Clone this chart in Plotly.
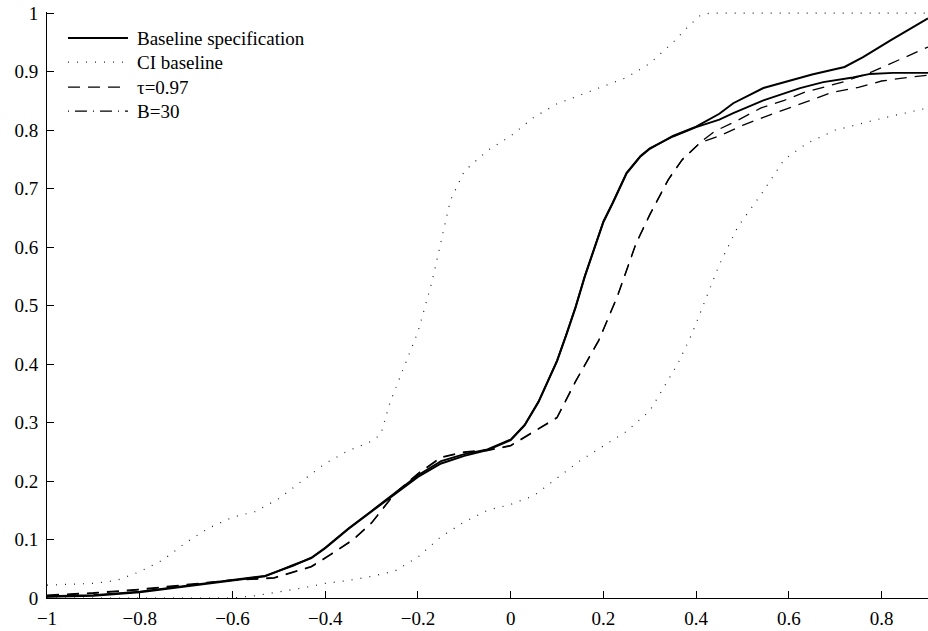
import plotly.graph_objects as go

# ---- data ----
x_base = [-1, -0.9, -0.8, -0.7, -0.6, -0.53, -0.47, -0.43, -0.4, -0.35, -0.3, -0.25, -0.2, -0.15, -0.1, -0.05,
          0, 0.03, 0.06, 0.08, 0.1, 0.12, 0.14, 0.16, 0.18, 0.2, 0.22, 0.25, 0.28, 0.3, 0.35, 0.4,
          0.45, 0.48, 0.545, 0.6, 0.65, 0.72, 0.76, 0.82, 0.86, 0.9]
y_base = [0.002, 0.004, 0.010, 0.020, 0.030, 0.037, 0.056, 0.068, 0.085, 0.118, 0.148, 0.178, 0.207, 0.230, 0.243, 0.253,
          0.270, 0.295, 0.335, 0.370, 0.405, 0.450, 0.497, 0.550, 0.598, 0.643, 0.675, 0.726, 0.755, 0.768, 0.790, 0.806,
          0.828, 0.846, 0.872, 0.884, 0.895, 0.908, 0.925, 0.954, 0.972, 0.991]

x_b30 = [-1, -0.9, -0.8, -0.7, -0.6, -0.53, -0.47, -0.43, -0.4, -0.35, -0.3, -0.25, -0.2, -0.15, -0.1, -0.05,
         0, 0.03, 0.06, 0.08, 0.1, 0.12, 0.14, 0.16, 0.18, 0.2, 0.22, 0.25, 0.28, 0.3, 0.35, 0.4,
         0.45, 0.48, 0.545, 0.6, 0.624, 0.674, 0.738, 0.775, 0.825, 0.9]
y_b30 = [0.003, 0.005, 0.011, 0.021, 0.031, 0.038, 0.055, 0.069, 0.086, 0.119, 0.149, 0.179, 0.210, 0.234, 0.246, 0.254,
         0.271, 0.296, 0.336, 0.371, 0.406, 0.451, 0.498, 0.551, 0.599, 0.644, 0.676, 0.727, 0.756, 0.769, 0.789, 0.805,
         0.818, 0.829, 0.851, 0.865, 0.872, 0.882, 0.890, 0.896, 0.898, 0.898]

x_tau = [-1, -0.9, -0.8, -0.7, -0.6, -0.51, -0.47, -0.43, -0.39, -0.34, -0.3, -0.27, -0.25, -0.2, -0.15, -0.1, -0.05,
         0, 0.04, 0.1, 0.14, 0.19, 0.23, 0.27, 0.3, 0.34, 0.37, 0.41,
         0.44, 0.49, 0.54, 0.59, 0.635, 0.72, 0.78, 0.83, 0.88, 0.9]
y_tau = [0.004, 0.008, 0.014, 0.022, 0.030, 0.034, 0.043, 0.053, 0.073, 0.099, 0.128, 0.159, 0.178, 0.212, 0.240, 0.249, 0.252,
         0.260, 0.279, 0.308, 0.370, 0.440, 0.515, 0.605, 0.655, 0.715, 0.749, 0.780,
         0.798, 0.817, 0.838, 0.851, 0.865, 0.883, 0.900, 0.918, 0.935, 0.942]

x_tau2 = [-1, -0.9, -0.8, -0.7, -0.6, -0.51, -0.47, -0.43, -0.39, -0.34, -0.3, -0.27, -0.25, -0.2, -0.15, -0.1, -0.05,
          0, 0.04, 0.1, 0.14, 0.19, 0.23, 0.27, 0.3, 0.34, 0.37, 0.41,
          0.45, 0.5, 0.545, 0.6, 0.645, 0.695, 0.75, 0.8, 0.845, 0.9]
y_tau2 = [0.005, 0.009, 0.015, 0.023, 0.031, 0.035, 0.044, 0.054, 0.074, 0.100, 0.129, 0.160, 0.179, 0.213, 0.241, 0.250, 0.253,
          0.261, 0.280, 0.309, 0.371, 0.441, 0.516, 0.606, 0.656, 0.716, 0.750, 0.779,
          0.790, 0.808, 0.822, 0.838, 0.851, 0.865, 0.873, 0.884, 0.889, 0.894]

x_ci_up = [-1, -0.9, -0.85, -0.8, -0.75, -0.7, -0.65, -0.6, -0.55, -0.5, -0.45, -0.4, -0.35, -0.3, -0.28, -0.26, -0.24,
           -0.2, -0.17, -0.15, -0.13, -0.1, -0.05, 0, 0.05, 0.1, 0.15, 0.2, 0.25, 0.3, 0.35, 0.38, 0.41, 0.43, 0.9]
y_ci_up = [0.022, 0.025, 0.030, 0.045, 0.065, 0.095, 0.120, 0.138, 0.148, 0.170, 0.200, 0.230, 0.252, 0.268, 0.280, 0.335, 0.375,
           0.455, 0.540, 0.610, 0.680, 0.730, 0.765, 0.790, 0.822, 0.845, 0.860, 0.875, 0.890, 0.914, 0.950, 0.975, 0.997, 1.0, 1.0]

x_ci_lo = [-1, -0.6, -0.55, -0.5, -0.45, -0.4, -0.35, -0.3, -0.25, -0.2, -0.15, -0.1, -0.05, 0, 0.05, 0.1, 0.15, 0.2,
           0.25, 0.3, 0.33, 0.36, 0.39, 0.42, 0.45, 0.49, 0.54, 0.59, 0.64, 0.7, 0.8, 0.9]
y_ci_lo = [0.0, 0.0, 0.004, 0.010, 0.017, 0.025, 0.030, 0.037, 0.046, 0.070, 0.105, 0.130, 0.150, 0.160, 0.175, 0.205, 0.235, 0.260,
           0.285, 0.320, 0.360, 0.400, 0.450, 0.510, 0.570, 0.635, 0.690, 0.750, 0.778, 0.800, 0.820, 0.838]

legend_labels = ["Baseline specification", "CI baseline", "τ=0.97", "B=30"]
x_ticks = [-1, -0.8, -0.6, -0.4, -0.2, 0, 0.2, 0.4, 0.6, 0.8]
y_ticks = [0, 0.1, 0.2, 0.3, 0.4, 0.5, 0.6, 0.7, 0.8, 0.9, 1]

FONT = "Liberation Serif"
DOT = "1px,8px"
DASH = "12px,8px"
DASHDOT = "1px,6px,12px,6px"

fig = go.Figure()
fig.add_trace(go.Scatter(x=x_ci_up, y=y_ci_up, mode="lines", name=legend_labels[1],
                         line=dict(color="#222", width=1.2, dash=DOT)))
fig.add_trace(go.Scatter(x=x_ci_lo, y=y_ci_lo, mode="lines", name=legend_labels[1],
                         line=dict(color="#222", width=1.2, dash=DOT)))
fig.add_trace(go.Scatter(x=x_tau2, y=y_tau2, mode="lines", name="",
                         line=dict(color="black", width=1.3, dash=DASH)))
fig.add_trace(go.Scatter(x=x_tau, y=y_tau, mode="lines", name=legend_labels[2],
                         line=dict(color="black", width=1.3, dash=DASH)))
fig.add_trace(go.Scatter(x=x_b30, y=y_b30, mode="lines", name=legend_labels[3],
                         line=dict(color="black", width=1.8)))
fig.add_trace(go.Scatter(x=x_base, y=y_base, mode="lines", name=legend_labels[0],
                         line=dict(color="black", width=2)))

# custom legend (MATLAB style)
leg_y = [0.9556, 0.9145, 0.8718, 0.8308]
leg_styles = [dict(color="black", width=2),
              dict(color="#222", width=1.2, dash=DOT),
              dict(color="black", width=1.3, dash=DASH),
              dict(color="black", width=1.3, dash=DASHDOT)]
for lab, yy, st in zip(legend_labels, leg_y, leg_styles):
    fig.add_shape(type="line", xref="paper", yref="paper", x0=0.0238, x1=0.0919, y0=yy, y1=yy, line=st)
    fig.add_annotation(xref="paper", yref="paper", x=0.0999, y=yy, text=lab, showarrow=False,
                       xanchor="left", yanchor="middle", font=dict(family=FONT, size=19, color="black"))

fig.update_layout(
    width=928, height=631,
    margin=dict(l=47, r=0, t=12, b=33, autoexpand=False),
    paper_bgcolor="white", plot_bgcolor="white",
    showlegend=False,
    font=dict(family=FONT, size=19, color="black"),
    xaxis=dict(range=[-1, 0.9], tickvals=x_ticks, ticks="inside", ticklen=7, tickcolor="black",
               showline=True, linecolor="black", linewidth=1, showgrid=False, zeroline=False,
               automargin=False, ticklabelstandoff=3,
               tickfont=dict(family=FONT, size=19, color="black")),
    yaxis=dict(range=[0, 1.002], tickvals=y_ticks, ticks="inside", ticklen=7, tickcolor="black",
               showline=True, linecolor="black", linewidth=1, showgrid=False, zeroline=False,
               automargin=False, ticklabelstandoff=4,
               tickfont=dict(family=FONT, size=19, color="black")),
)

fig.write_html("out.html", config={"displayModeBar": False},
               post_script="document.body.style.margin='0';document.body.style.overflow='hidden';")
